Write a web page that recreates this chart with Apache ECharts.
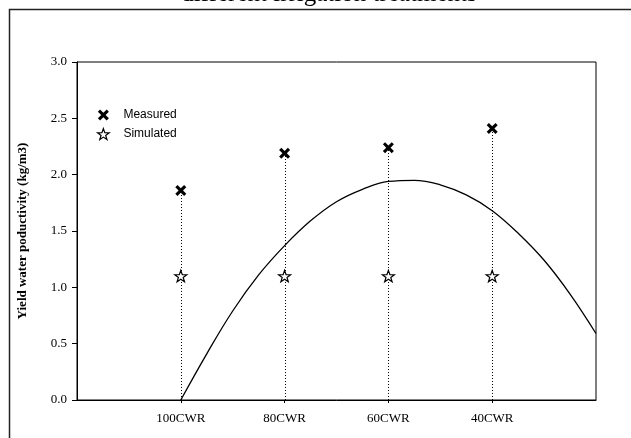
<!DOCTYPE html>
<html>
<head>
<meta charset="utf-8">
<script src="https://cdn.jsdelivr.net/npm/echarts@6/dist/echarts.min.js"></script>
<style>
html,body{margin:0;padding:0;background:#fff;}
#c{width:631px;height:438px;}
</style>
</head>
<body>
<div id="c"></div>
<script>
// ---- data ----
var categories = ['100CWR', '80CWR', '60CWR', '40CWR'];
var categoryPos = [1, 2, 3, 4];
var measured = [1.86, 2.19, 2.24, 2.41];
var simulated = [1.10, 1.10, 1.10, 1.10];
var curveX = [1.00, 1.25, 1.50, 1.75, 2.00, 2.25, 2.50, 2.75, 3.00, 3.25, 3.50, 3.75, 4.00, 4.25, 4.50, 4.75, 5.00];
var curveY = [0.00, 0.41, 0.79, 1.11, 1.37, 1.59, 1.76, 1.87, 1.94, 1.95, 1.91, 1.82, 1.68, 1.48, 1.24, 0.94, 0.59];
var yTicks = [0.0, 0.5, 1.0, 1.5, 2.0, 2.5, 3.0];
var titleText = 'different irrigation treatments';
var yName = 'Yield water poductivity (kg/m3)';

var crossPath = 'path://M0,20 L20,0 L50,30 L80,0 L100,20 L70,50 L100,80 L80,100 L50,70 L20,100 L0,80 L30,50 Z';
var starPath = 'path://M50,0 L61.76,33.82 L97.55,34.55 L69.02,56.18 L79.39,90.45 L50,70 L20.61,90.45 L30.98,56.18 L2.45,34.55 L38.24,33.82 Z';

function pairs(xs, ys) { return xs.map(function (x, i) { return [x, ys[i]]; }); }

var chart = echarts.init(document.getElementById('c'), null, {renderer: 'canvas'});
var serif = '"Liberation Serif", "Times New Roman", serif';
var sans = '"Liberation Sans", Arial, sans-serif';

chart.setOption({
  animation: false,
  backgroundColor: '#fff',
  graphic: [
    {
      type: 'rect', silent: true, z: 0,
      shape: {x: 9.5, y: 9.5, width: 700, height: 500},
      style: {fill: 'none', stroke: '#222', lineWidth: 1.5}
    },
    {
      type: 'text', silent: true,
      x: 329, y: -6,
      style: {text: titleText, font: '25px ' + serif, fill: '#000', textAlign: 'center', textVerticalAlign: 'middle'}
    }
  ],
  legend: {
    orient: 'vertical',
    left: 92, top: 104,
    itemWidth: 30, itemHeight: 11, itemGap: 7,
    selectedMode: false,
    textStyle: {fontFamily: sans, fontSize: 12, color: '#000'},
    data: [
      {name: 'Measured', icon: crossPath, itemStyle: {color: '#000', borderWidth: 0}},
      {name: 'Simulated', icon: starPath, itemStyle: {color: '#fff', borderColor: '#000', borderWidth: 1.2}}
    ]
  },
  grid: {left: 77, right: 35, top: 62, bottom: 38, show: true, borderColor: '#000', borderWidth: 1, backgroundColor: 'transparent'},
  xAxis: {
    type: 'value', min: 0, max: 5, interval: 1,
    splitLine: {show: false},
    axisLine: {lineStyle: {color: '#000', width: 1}},
    axisTick: {show: true, length: 3, lineStyle: {color: '#000'}, customValues: categoryPos},
    axisLabel: {
      customValues: categoryPos, margin: 12,
      fontFamily: serif, fontSize: 13, color: '#000',
      formatter: function (v) { var i = categoryPos.indexOf(v); return i >= 0 ? categories[i] : ''; }
    }
  },
  yAxis: {
    type: 'value', min: 0, max: 3, interval: 0.5,
    splitLine: {show: false},
    axisLine: {show: true, lineStyle: {color: '#000', width: 1}},
    axisTick: {show: true, length: 5, lineStyle: {color: '#000'}},
    axisLabel: {margin: 10, fontFamily: serif, fontSize: 13, color: '#000', formatter: function (v) { return v.toFixed(1); }},
    name: yName, nameLocation: 'middle', nameGap: 48,
    nameTextStyle: {fontFamily: serif, fontSize: 13, fontWeight: 'bold', color: '#000'}
  },
  series: [
    {
      type: 'custom', name: 'drop', silent: true, z: 1,
      data: pairs(categoryPos, measured),
      renderItem: function (params, api) {
        var p0 = api.coord([api.value(0), 0]);
        var p1 = api.coord([api.value(0), api.value(1)]);
        return {
          type: 'line',
          shape: {x1: Math.round(p0[0]) + 0.5, y1: p0[1], x2: Math.round(p1[0]) + 0.5, y2: p1[1]},
          style: {stroke: '#000', lineWidth: 1, lineDash: [1, 2]}
        };
      }
    },
    {
      type: 'line', name: 'curve', silent: true, z: 2,
      data: pairs(curveX, curveY),
      smooth: 0.4, showSymbol: false, symbol: 'none',
      lineStyle: {color: '#000', width: 1.3}
    },
    {
      type: 'scatter', name: 'Measured', z: 3,
      data: pairs(categoryPos, measured),
      symbol: crossPath, symbolSize: 11, symbolKeepAspect: true,
      itemStyle: {color: '#000', opacity: 1}
    },
    {
      type: 'scatter', name: 'Simulated', z: 3,
      data: pairs(categoryPos, simulated),
      symbol: starPath, symbolSize: [12, 12], symbolKeepAspect: true,
      itemStyle: {color: '#fff', borderColor: '#000', borderWidth: 1.2, opacity: 1}
    }
  ]
});
</script>
</body>
</html>
